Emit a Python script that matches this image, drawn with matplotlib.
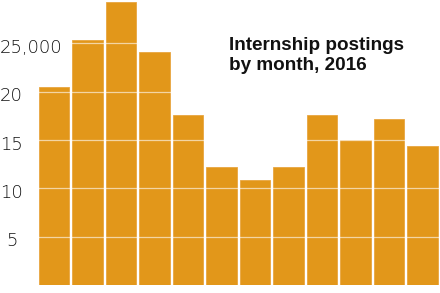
import matplotlib
matplotlib.use("Agg")
import matplotlib.pyplot as plt
import matplotlib.transforms as mtransforms

months = ["Jan", "Feb", "Mar", "Apr", "May", "Jun", "Jul", "Aug", "Sep", "Oct", "Nov", "Dec"]
postings = [20.5, 25.4, 29.3, 24.1, 17.6, 12.2, 10.9, 12.2, 17.6, 15.0, 17.2, 14.4]  # thousands
tick_values = [5, 10, 15, 20, 25]
tick_labels = ["5", "10", "15", "20", "25,000"]
title_lines = ["Internship postings", "by month, 2016"]

fig = plt.figure(figsize=(4.4, 2.93), dpi=100)
ax = fig.add_axes([37.3 / 440, 8 / 293, 402 / 440, 285 / 293])

x = list(range(len(months)))
ax.bar(x, postings, width=0.9, color="#E2971A", edgecolor="#E8A640", linewidth=0.6, zorder=2)
ax.set_xlim(-0.5, 11.5)
ax.set_ylim(0, 29.5)

for v in tick_values:
    ax.axhline(v, color="white", alpha=0.6, linewidth=0.9, zorder=3)

for s in ax.spines.values():
    s.set_visible(False)
ax.set_xticks([])
ax.set_yticks([])

trans = mtransforms.blended_transform_factory(fig.transFigure, ax.transData)
for v, lab in zip(tick_values, tick_labels):
    kw = dict(transform=trans, va="baseline", fontsize=13, fontfamily="DejaVu Sans",
              fontweight="light", color="#111111")
    if lab == "25,000":
        ax.text(0.0 / 440, v - 1.0, lab, ha="left", **kw)
    else:
        ax.text(11.5 / 440, v - 1.0, lab, ha="center", **kw)

for i, line in enumerate(title_lines):
    fig.text(229 / 440, 1 - (49.5 + 20 * i) / 293, line, ha="left", va="baseline",
             fontsize=13.6, fontweight="bold", fontfamily="Liberation Sans", color="#111111")

fig.savefig("out.png", dpi=100)
